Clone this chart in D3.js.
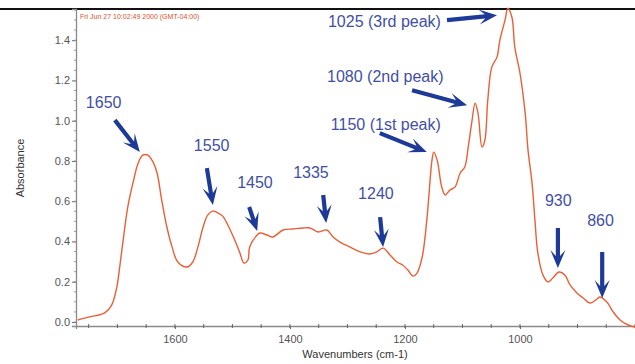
<!DOCTYPE html>
<html lang="en">
<head>
<meta charset="utf-8">
<title>IR spectrum with peak labels</title>
<script src="https://cdn.jsdelivr.net/npm/d3@7"></script>
<style>
  body { margin: 0; background: #fff; }
  svg { display: block; font-family: "Liberation Sans", Arial, sans-serif; }
</style>
</head>
<body>
<div id="chart"></div>
<script>
// spectrum: wavenumber (cm-1) and absorbance
var wavenumbers = [1769,1748,1722,1710,1701,1696,1690,1682,1673,1664,1656,1647,1638,1631,1623,1614,1605,1595,1579,1569,1560,1551,1543,1534,1525,1517,1508,1496,1487,1480,1473,1470,1457,1452,1440,1430,1412,1395,1377,1365,1351,1336,1325,1313,1296,1278,1261,1249,1238,1226,1214,1204,1195,1186,1179,1170,1162,1153,1150,1144,1136,1130,1122,1113,1104,1096,1090,1084,1078,1073,1066,1061,1056,1049,1040,1035,1026,1021,1014,1009,1000,991,986,979,974,969,960,951,943,932,922,913,901,890,878,866,861,849,838,826,812,800];
var absorbance = [0.010,0.025,0.045,0.084,0.174,0.273,0.407,0.571,0.690,0.789,0.829,0.829,0.794,0.740,0.606,0.472,0.373,0.298,0.273,0.298,0.373,0.472,0.531,0.551,0.541,0.526,0.482,0.407,0.343,0.293,0.308,0.373,0.432,0.442,0.432,0.422,0.457,0.462,0.467,0.467,0.447,0.457,0.422,0.397,0.373,0.348,0.338,0.348,0.367,0.333,0.298,0.283,0.258,0.228,0.243,0.323,0.506,0.804,0.844,0.804,0.670,0.631,0.655,0.670,0.740,0.770,0.869,0.988,1.087,1.038,0.869,0.904,1.102,1.266,1.316,1.400,1.500,1.559,1.514,1.365,1.236,1.038,0.854,0.690,0.506,0.343,0.233,0.199,0.218,0.248,0.233,0.184,0.144,0.119,0.094,0.114,0.124,0.099,0.050,0.010,-0.015,-0.025];

var yTicks = [0.0, 0.2, 0.4, 0.6, 0.8, 1.0, 1.2, 1.4];
var xTicks = [1600, 1400, 1200, 1000];

// annotations: label and the point its arrow points at
var peakLabels = ["1650","1550","1450","1335","1240","1150 (1st peak)","1080 (2nd peak)","1025 (3rd peak)","930","860"];
var peakWn  = [1661, 1534, 1457, 1337, 1238, 1162, 1092, 1040, 934, 857];
var peakAbs = [0.844, 0.581, 0.452, 0.492, 0.372, 0.844, 1.077, 1.524, 0.268, 0.119];

// arrow tail offsets and label positions (pixels, relative to arrow tip)
var tailDx = [-25, -6, -8, -3, -3, -47, -55, -50, 0, 0];
var tailDy = [-32, -37, -24, -28, -30, -19, -15, 5, -40, -46];
var textDx = [-54, -19, -20, -33, -25, -96, -140, -169, -13, -15];
var textDy = [-44, -54, -43, -45, -48, -22, -23, 12, -62, -72];

var w = 635, h = 364;
var mLeft = 76, mRight = 635, mTop = 9, mBottom = 326;

var svg = d3.select("#chart").append("svg")
  .attr("width", w)
  .attr("height", h);

var x = d3.scaleLinear().domain([1772, 800]).range([mLeft, mRight]);
var y = d3.scaleLinear().domain([-0.02, 1.555]).range([mBottom, mTop]);

// top frame line
svg.append("line")
  .attr("x1", 0).attr("x2", w)
  .attr("y1", mTop).attr("y2", mTop)
  .attr("stroke", "#111").attr("stroke-width", 2);

// date stamp
svg.append("text")
  .attr("x", 80).attr("y", 19)
  .attr("font-size", "7px")
  .attr("fill", "#e0502c")
  .text("Fri Jun 27 10:02:49 2000 (GMT-04:00)");

// y axis
var yAxis = svg.append("g")
  .attr("transform", "translate(" + mLeft + ",0)")
  .call(d3.axisLeft(y).tickValues(yTicks).tickFormat(d3.format(".1f")).tickSize(4).tickPadding(2));
yAxis.append("g").selectAll("line")
  .data(d3.range(0, 1.551, 0.05))
  .enter().append("line")
  .attr("x1", -2).attr("x2", 0)
  .attr("y1", function(d) { return y(d); })
  .attr("y2", function(d) { return y(d); })
  .attr("stroke", "#999");

// x axis
var xAxis = svg.append("g")
  .attr("transform", "translate(0," + mBottom + ")")
  .call(d3.axisBottom(x).tickValues(xTicks).tickFormat(d3.format("d")).tickSize(3).tickPadding(6));
xAxis.append("g").selectAll("line")
  .data(d3.range(800, 1772, 50))
  .enter().append("line")
  .attr("x1", function(d) { return x(d); })
  .attr("x2", function(d) { return x(d); })
  .attr("y1", -2).attr("y2", 2)
  .attr("stroke", "#666");

svg.selectAll(".domain").attr("stroke", "#8a8a8a").attr("stroke-width", 1.3);
svg.selectAll(".tick line").attr("stroke", "#666");
svg.selectAll(".tick text").attr("font-size", "11px").attr("fill", "#555")
  .attr("font-family", "\"Liberation Sans\", Arial, sans-serif");

// axis titles
svg.append("text")
  .attr("x", 355).attr("y", 358)
  .attr("text-anchor", "middle")
  .attr("font-size", "11px").attr("fill", "#333")
  .text("Wavenumbers (cm-1)");

svg.append("text")
  .attr("transform", "translate(24,168) rotate(-90)")
  .attr("text-anchor", "middle")
  .attr("font-size", "11px").attr("fill", "#333")
  .text("Absorbance");

// spectrum
var line = d3.line()
  .x(function(d, i) { return x(wavenumbers[i]); })
  .y(function(d) { return y(d); })
  .curve(d3.curveCatmullRom);

svg.append("path")
  .datum(absorbance)
  .attr("d", line)
  .attr("fill", "none")
  .attr("stroke", "#ea5f36")
  .attr("stroke-width", 1.4);

// arrows
function arrowPath(tx, ty, px, py) {
  var dx = px - tx, dy = py - ty;
  var len = Math.sqrt(dx * dx + dy * dy);
  var ux = dx / len, uy = dy / len;
  var nx = -uy, ny = ux;
  var L = Math.min(18, len), W = 7.5, notch = 6, s = 2.1;
  var bx = px - ux * (L - notch), by = py - uy * (L - notch);
  var pts = [
    [tx + nx * s, ty + ny * s],
    [bx + nx * s, by + ny * s],
    [px - ux * L + nx * W, py - uy * L + ny * W],
    [px, py],
    [px - ux * L - nx * W, py - uy * L - ny * W],
    [bx - nx * s, by - ny * s],
    [tx - nx * s, ty - ny * s]
  ];
  return "M" + pts.map(function(p) { return p[0].toFixed(1) + "," + p[1].toFixed(1); }).join("L") + "Z";
}

var ann = svg.selectAll(".ann")
  .data(peakLabels)
  .enter().append("g")
  .attr("class", "ann");

ann.append("path")
  .attr("d", function(d, i) {
    var px = x(peakWn[i]), py = y(peakAbs[i]);
    return arrowPath(px + tailDx[i], py + tailDy[i], px, py);
  })
  .attr("fill", "#1e3a98");

ann.append("text")
  .attr("x", function(d, i) { return x(peakWn[i]) + textDx[i]; })
  .attr("y", function(d, i) { return y(peakAbs[i]) + textDy[i]; })
  .attr("font-size", "16px")
  .attr("fill", "#3f4fa6")
  .text(function(d) { return d; });
</script>
</body>
</html>
